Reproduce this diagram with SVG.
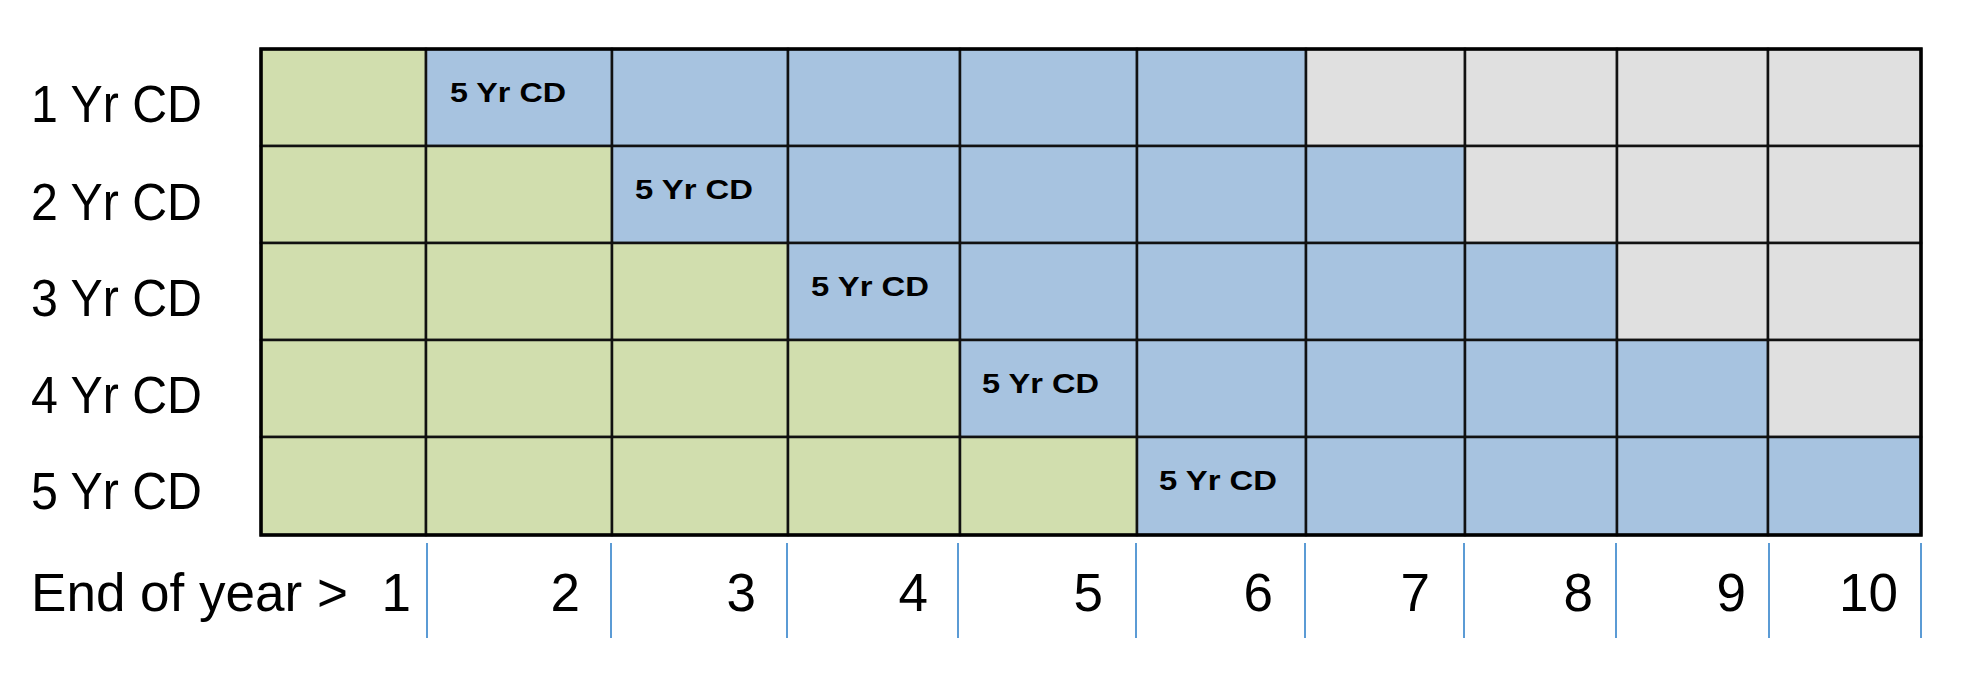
<svg xmlns="http://www.w3.org/2000/svg" width="1976" height="682" viewBox="0 0 1976 682">
<style>
.g{fill:#d1deae}
.b{fill:#a7c3e0}
.x{fill:#e0e0e0}
.cell{stroke:#111;stroke-width:2.5}
.lbl{font-family:"Liberation Sans",Arial,sans-serif;font-size:51px;fill:#000}
.ax{font-family:"Liberation Sans",Arial,sans-serif;font-size:53px;fill:#000}
.cd{font-family:"Liberation Sans",Arial,sans-serif;font-size:27px;font-weight:bold;fill:#000}
.tick{stroke:#5b9bd5;stroke-width:2}
</style>
<rect width="1976" height="682" fill="#fff"/>
<g id="row-labels">
<text class="lbl" x="31" y="122" textLength="171" lengthAdjust="spacingAndGlyphs">1 Yr CD</text>
<text class="lbl" x="31" y="220" textLength="171" lengthAdjust="spacingAndGlyphs">2 Yr CD</text>
<text class="lbl" x="31" y="316" textLength="171" lengthAdjust="spacingAndGlyphs">3 Yr CD</text>
<text class="lbl" x="31" y="413" textLength="171" lengthAdjust="spacingAndGlyphs">4 Yr CD</text>
<text class="lbl" x="31" y="509" textLength="171" lengthAdjust="spacingAndGlyphs">5 Yr CD</text>
</g>
<g id="row1" class="cell">
<rect class="g" x="261" y="49" width="165" height="97"/>
<rect class="b" x="426" y="49" width="186" height="97"/>
<rect class="b" x="612" y="49" width="176" height="97"/>
<rect class="b" x="788" y="49" width="172" height="97"/>
<rect class="b" x="960" y="49" width="177" height="97"/>
<rect class="b" x="1137" y="49" width="169" height="97"/>
<rect class="x" x="1306" y="49" width="159" height="97"/>
<rect class="x" x="1465" y="49" width="152" height="97"/>
<rect class="x" x="1617" y="49" width="151" height="97"/>
<rect class="x" x="1768" y="49" width="153" height="97"/>
</g>
<g id="row2" class="cell">
<rect class="g" x="261" y="146" width="165" height="97"/>
<rect class="g" x="426" y="146" width="186" height="97"/>
<rect class="b" x="612" y="146" width="176" height="97"/>
<rect class="b" x="788" y="146" width="172" height="97"/>
<rect class="b" x="960" y="146" width="177" height="97"/>
<rect class="b" x="1137" y="146" width="169" height="97"/>
<rect class="b" x="1306" y="146" width="159" height="97"/>
<rect class="x" x="1465" y="146" width="152" height="97"/>
<rect class="x" x="1617" y="146" width="151" height="97"/>
<rect class="x" x="1768" y="146" width="153" height="97"/>
</g>
<g id="row3" class="cell">
<rect class="g" x="261" y="243" width="165" height="97"/>
<rect class="g" x="426" y="243" width="186" height="97"/>
<rect class="g" x="612" y="243" width="176" height="97"/>
<rect class="b" x="788" y="243" width="172" height="97"/>
<rect class="b" x="960" y="243" width="177" height="97"/>
<rect class="b" x="1137" y="243" width="169" height="97"/>
<rect class="b" x="1306" y="243" width="159" height="97"/>
<rect class="b" x="1465" y="243" width="152" height="97"/>
<rect class="x" x="1617" y="243" width="151" height="97"/>
<rect class="x" x="1768" y="243" width="153" height="97"/>
</g>
<g id="row4" class="cell">
<rect class="g" x="261" y="340" width="165" height="97"/>
<rect class="g" x="426" y="340" width="186" height="97"/>
<rect class="g" x="612" y="340" width="176" height="97"/>
<rect class="g" x="788" y="340" width="172" height="97"/>
<rect class="b" x="960" y="340" width="177" height="97"/>
<rect class="b" x="1137" y="340" width="169" height="97"/>
<rect class="b" x="1306" y="340" width="159" height="97"/>
<rect class="b" x="1465" y="340" width="152" height="97"/>
<rect class="b" x="1617" y="340" width="151" height="97"/>
<rect class="x" x="1768" y="340" width="153" height="97"/>
</g>
<g id="row5" class="cell">
<rect class="g" x="261" y="437" width="165" height="98"/>
<rect class="g" x="426" y="437" width="186" height="98"/>
<rect class="g" x="612" y="437" width="176" height="98"/>
<rect class="g" x="788" y="437" width="172" height="98"/>
<rect class="g" x="960" y="437" width="177" height="98"/>
<rect class="b" x="1137" y="437" width="169" height="98"/>
<rect class="b" x="1306" y="437" width="159" height="98"/>
<rect class="b" x="1465" y="437" width="152" height="98"/>
<rect class="b" x="1617" y="437" width="151" height="98"/>
<rect class="b" x="1768" y="437" width="153" height="98"/>
</g>
<rect id="frame" x="261" y="49" width="1660" height="486" fill="none" stroke="#000" stroke-width="3.5"/>
<g id="cd-labels">
<text class="cd" x="450" y="102" textLength="116" lengthAdjust="spacingAndGlyphs">5 Yr CD</text>
<text class="cd" x="635" y="199" textLength="118" lengthAdjust="spacingAndGlyphs">5 Yr CD</text>
<text class="cd" x="811" y="296" textLength="118" lengthAdjust="spacingAndGlyphs">5 Yr CD</text>
<text class="cd" x="982" y="393" textLength="117" lengthAdjust="spacingAndGlyphs">5 Yr CD</text>
<text class="cd" x="1159" y="490" textLength="118" lengthAdjust="spacingAndGlyphs">5 Yr CD</text>
</g>
<g id="ticks" class="tick">
<line x1="427" y1="543" x2="427" y2="638"/>
<line x1="611" y1="543" x2="611" y2="638"/>
<line x1="787" y1="543" x2="787" y2="638"/>
<line x1="958" y1="543" x2="958" y2="638"/>
<line x1="1136" y1="543" x2="1136" y2="638"/>
<line x1="1305" y1="543" x2="1305" y2="638"/>
<line x1="1464" y1="543" x2="1464" y2="638"/>
<line x1="1616" y1="543" x2="1616" y2="638"/>
<line x1="1769" y1="543" x2="1769" y2="638"/>
<line x1="1921" y1="543" x2="1921" y2="638"/>
</g>
<g id="axis-labels" text-anchor="end">
<text class="ax" x="348" y="611" textLength="317" lengthAdjust="spacingAndGlyphs">End of year &gt;</text>
<text class="ax" x="411" y="611">1</text>
<text class="ax" x="580" y="611">2</text>
<text class="ax" x="756" y="611">3</text>
<text class="ax" x="928" y="611">4</text>
<text class="ax" x="1103" y="611">5</text>
<text class="ax" x="1273" y="611">6</text>
<text class="ax" x="1430" y="611">7</text>
<text class="ax" x="1593" y="611">8</text>
<text class="ax" x="1746" y="611">9</text>
<text class="ax" x="1898" y="611">10</text>
</g>
</svg>
